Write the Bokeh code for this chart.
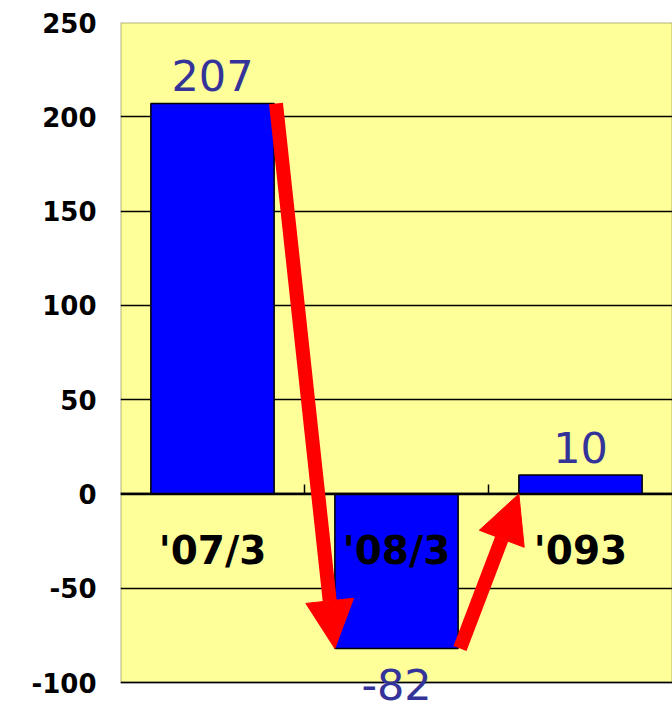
from bokeh.plotting import figure
from bokeh.models import ColumnDataSource, Arrow, NormalHead, Label, Span, FixedTicker, Range1d, BoxAnnotation
from bokeh.core.properties import value
from bokeh.embed import file_html
from bokeh.resources import INLINE

categories = ["'07/3", "'08/3", "'093"]
values = [207, -82, 10]
y_ticks = [-100, -50, 0, 50, 100, 150, 200, 250]

BAR_W = 0.67
xs = [i + 0.5 for i in range(len(categories))]

FRAME_TOP = 22
AXIS_PX = 660            # pixels from top tick to bottom tick
EXTRA_PX = 28            # room below the lowest tick, inside the frame (for the -82 label)
y_lo, y_hi = y_ticks[0], y_ticks[-1]
y_start = y_lo - EXTRA_PX * (y_hi - y_lo) / AXIS_PX

p = figure(width=672, height=710, output_backend="svg", toolbar_location=None,
           x_range=Range1d(0, len(categories)), y_range=Range1d(y_start, y_hi),
           min_border_left=120, min_border_right=0, min_border_top=FRAME_TOP, min_border_bottom=0)

p.border_fill_color = "white"
p.background_fill_color = "white"
p.outline_line_color = None

# yellow plot area with black border, drawn beneath the grid
area = BoxAnnotation(left=0, right=len(categories), bottom=y_lo, top=y_hi,
                     fill_color="#FFFF99", fill_alpha=1.0, line_color="black", line_width=2,
                     level="underlay")
p.center = [area] + list(p.center)

p.xaxis.visible = False
p.xgrid.visible = False
p.ygrid.grid_line_color = "black"
p.ygrid.grid_line_width = 1.5
p.yaxis.ticker = FixedTicker(ticks=y_ticks)
p.yaxis.major_label_overrides = {t: str(t) for t in y_ticks}
p.yaxis.axis_line_color = None
p.yaxis.major_tick_line_color = None
p.yaxis.minor_tick_line_color = None
p.yaxis.major_tick_out = 0
p.yaxis.major_tick_in = 0
p.yaxis.major_label_standoff = 24
p.yaxis.major_label_text_font = "DejaVu Sans"
p.yaxis.major_label_text_font_style = "bold"
p.yaxis.major_label_text_font_size = "26px"
p.yaxis.major_label_text_color = "black"

src = ColumnDataSource(dict(
    x=xs, top=values, cat=categories, cat_y=[-30] * len(categories),
))

p.vbar(x="x", top="top", bottom=0, width=BAR_W, source=src,
       fill_color="#0000FF", line_color="black", line_width=1.5)

# zero line
p.add_layout(Span(location=0, dimension="width", line_color="black", line_width=2.5))

# small category separator ticks on zero line
seps = list(range(1, len(categories)))
p.segment(x0=seps, y0=[0] * len(seps), x1=seps, y1=[5] * len(seps), line_color="black", line_width=1.5)

# category labels inside plot
p.text(x="x", y="cat_y", text="cat", source=src, text_align="center", text_baseline="middle",
       text_font=value("DejaVu Sans"), text_font_style="bold", text_font_size="39px", text_color="black")

# value labels
for xv, v in zip(xs, values):
    p.add_layout(Label(x=xv, y=v, text=str(v), y_offset=(28 if v >= 0 else -36),
                       text_align="center", text_baseline="middle",
                       text_font="DejaVu Sans", text_font_size="43px", text_color="#333399"))

# red arrows between bars
for i in range(len(values) - 1):
    x0 = xs[i] + BAR_W / 2 + 0.01
    y0 = values[i]
    x1 = xs[i + 1] - BAR_W / 2
    y1 = min(0, values[i + 1])
    p.add_layout(Arrow(end=NormalHead(size=48, fill_color="#FF0000", line_color="#FF0000", line_width=1),
                       x_start=x0, y_start=y0, x_end=x1, y_end=y1,
                       line_color="#FF0000", line_width=14))

open("out.html", "w").write(file_html(p, INLINE))
